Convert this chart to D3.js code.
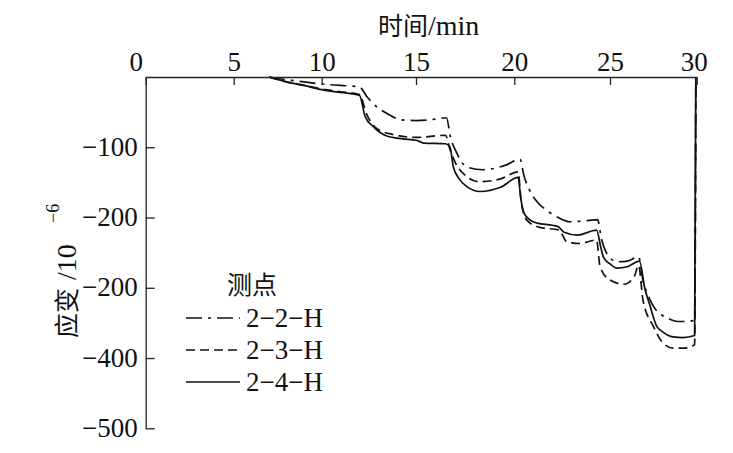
<!DOCTYPE html>
<html>
<head>
<meta charset="utf-8">
<script src="https://cdn.jsdelivr.net/npm/d3@7"></script>
<style>
  body { margin: 0; background: #fff; }
  .serif { font-family: "Liberation Serif", "DejaVu Serif", serif; }
  .cjk { font-family: "Noto Sans CJK SC", sans-serif; }
</style>
</head>
<body>
<svg></svg>
<script>
// time (min) and strain (10^-6)
var seriesNames = ["2−2−H", "2−3−H", "2−4−H"];

var t22 = [7, 8, 9, 10, 11, 12, 12.4, 12.9, 13.6, 14.2, 15.0, 16.0, 16.55, 16.75, 17.07, 17.58, 18.4, 19.6, 20.3,
           20.5, 20.8, 21.2, 21.7, 22.3, 22.9, 23.6, 24.35, 24.55, 24.83, 25.4, 26.0, 26.65,
           26.9, 27.3, 27.6, 28.0, 28.3, 28.9, 29.4, 29.88, 29.95];
var v22 = [0, -4, -7, -10, -12, -14, -28, -42, -54, -61, -62, -60, -58, -85, -108, -128, -132, -125, -117,
           -140, -161, -178, -190, -200, -206, -205, -203, -230, -251, -263, -262, -256,
           -289, -317, -330, -339, -343, -348, -348, -346, 0];

var t23 = [7, 8, 9, 10, 11, 12, 12.4, 12.9, 13.8, 15.0, 16.5, 16.75, 17.0, 17.5, 18.2, 19.3, 20.2,
           20.35, 20.63, 21.33, 22.37, 22.5, 22.72, 23.41, 24.3, 24.48, 25.0, 25.8, 26.4, 26.65,
           26.9, 27.5, 28.07, 28.65, 29.2, 29.88, 29.95];
var v23 = [0, -7, -12, -17, -21, -25, -54, -73, -82, -86, -83, -105, -122, -140, -149, -145, -135,
           -175, -203, -214, -218, -224, -234, -237, -232, -270, -289, -295, -284, -268,
           -317, -355, -379, -386, -386, -381, 0];

var t24 = [7, 8, 9, 10, 11, 12, 12.3, 12.75, 13.45, 14.3, 15.0, 15.2, 15.4, 16.5,
           16.73, 16.9, 17.2, 17.58, 18.26, 19.3, 20.2,
           20.35, 20.5, 20.8, 21.2, 22.0, 22.3, 22.6, 23.3, 24.3,
           24.5, 24.65, 25.0, 25.4, 26.0, 26.7,
           27.0, 27.3, 27.7, 28.0, 28.65, 29.2, 29.88, 29.95];
var v24 = [0, -7, -12, -18, -22, -26, -56, -71, -84, -88, -90, -92, -94, -95,
           -100, -128, -145, -156, -163, -157, -143,
           -175, -193, -203, -208, -211, -213, -221, -225, -218,
           -240, -256, -266, -272, -270, -262,
           -300, -325, -355, -362, -370, -371, -368, 0];

var xTicks = [0, 5, 10, 15, 20, 25, 30];
var yTicks = [-100, -200, -300, -400, -500];
var yTickLabels = ["−100", "−200", "−200", "−400", "−500"];

var series = [
  {name: seriesNames[0], t: t22, v: v22, dash: "16,6,3,6"},
  {name: seriesNames[1], t: t23, v: v23, dash: "9,5"},
  {name: seriesNames[2], t: t24, v: v24, dash: null}
];

var screen = {width: 733, height: 453};

var svg = d3.select("svg")
            .attr("width", screen.width)
            .attr("height", screen.height);

// the scanned axis is not quite even, so map each tick where it sits
var x = d3.scaleLinear()
          .domain(xTicks)
          .range([145.7, 233.7, 321.7, 416, 514.3, 610, 696.7]);
var y = d3.scaleLinear()
          .domain([0, -500])
          .range([77, 428.3]);

var line = d3.line()
             .x(function(d) { return x(d[0]); })
             .y(function(d) { return y(d[1]); })
             .curve(d3.curveMonotoneX);

svg.append("g")
   .selectAll("path")
   .data(series)
   .enter()
   .append("path")
   .attr("d", function(s) { return line(s.t.map(function(t, i) { return [t, s.v[i]]; })); })
   .attr("fill", "none")
   .attr("stroke", "#111")
   .attr("stroke-width", 1.7)
   .attr("stroke-dasharray", function(s) { return s.dash; });

// axes
var xAxis = svg.append("g")
   .attr("transform", "translate(0," + y(0) + ")")
   .call(d3.axisTop(x).tickValues(xTicks).tickSize(-8).tickSizeOuter(0).tickPadding(6));

var yAxis = svg.append("g")
   .attr("transform", "translate(" + x(0) + ",0)")
   .call(d3.axisLeft(y).tickValues(yTicks)
           .tickFormat(function(d, i) { return yTickLabels[i]; })
           .tickSize(-9).tickSizeOuter(0).tickPadding(8));

[xAxis, yAxis].forEach(function(g) {
  g.attr("font-family", null).attr("font-size", null);
  g.selectAll("path, line").attr("stroke", "#222").attr("stroke-width", 1.3);
  g.selectAll("text").attr("class", "serif").style("font-size", "27px").attr("fill", "#111");
});
yAxis.selectAll("text").attr("dy", "0.3em");
xAxis.selectAll("text")
     .attr("dx", function(d) { return d == 0 ? -10 : (d == 30 ? -3 : 0); });

// axis titles
var xTitle = svg.append("text")
   .attr("x", 378)
   .attr("y", 35)
   .attr("fill", "#111");
xTitle.append("tspan").attr("class", "cjk").style("font-size", "25px").text("时间");
xTitle.append("tspan").attr("class", "serif").style("font-size", "28px").text("/min");

var yTitle = svg.append("text")
   .attr("transform", "translate(76,338) rotate(-90)")
   .attr("fill", "#111");
yTitle.append("tspan").attr("x", 0).attr("class", "cjk").style("font-size", "25px").text("应变");
yTitle.append("tspan").attr("x", 58).attr("class", "serif").style("font-size", "28px").text("/10");
yTitle.append("tspan").attr("x", 115).attr("dy", -17).attr("class", "serif")
      .style("font-size", "18px").text("−6");

// legend
var legend = svg.append("g");
legend.append("text")
      .attr("x", 252)
      .attr("y", 294)
      .attr("text-anchor", "middle")
      .attr("class", "cjk")
      .style("font-size", "25px")
      .attr("fill", "#111")
      .text("测点");

var legendY = d3.scaleLinear().domain([0, 2]).range([318, 382]);

var items = legend.selectAll("g.item")
      .data(series)
      .enter()
      .append("g")
      .attr("class", "item")
      .attr("transform", function(s, i) { return "translate(0," + legendY(i) + ")"; });

items.append("line")
     .attr("x1", 186).attr("x2", 240)
     .attr("stroke", "#111")
     .attr("stroke-width", 1.7)
     .attr("stroke-dasharray", function(s) { return s.dash; });

items.append("text")
     .attr("x", 246)
     .attr("dy", "0.33em")
     .attr("class", "serif")
     .style("font-size", "27px")
     .attr("fill", "#111")
     .text(function(s) { return s.name; });
</script>
</body>
</html>
